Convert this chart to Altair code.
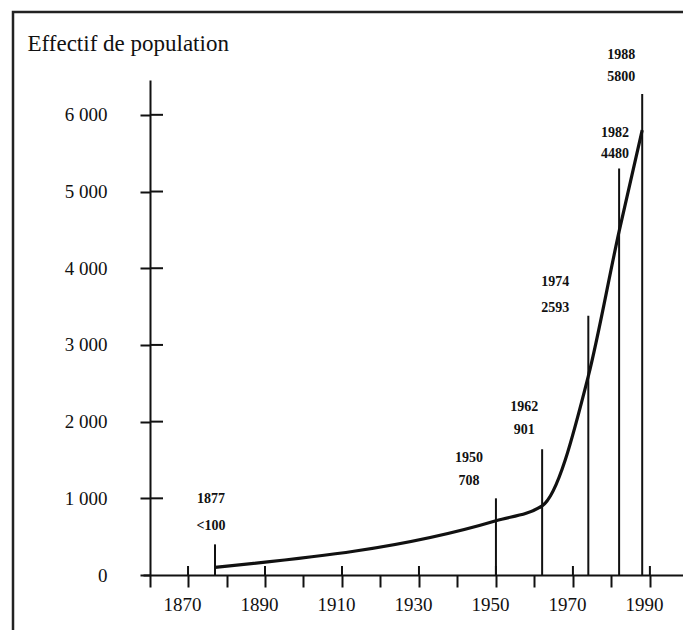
import altair as alt
import pandas as pd

# ---- data ----
years = [1877, 1950, 1962, 1974, 1982, 1988]
population = [100, 708, 901, 2593, 4480, 5800]
year_labels = ["1877", "1950", "1962", "1974", "1982", "1988"]
value_labels = ["<100", "708", "901", "2593", "4480", "5800"]
marker_tops = [400, 1000, 1640, 3380, 5300, 6270]
y_ticks = [0, 1000, 2000, 3000, 4000, 5000, 6000]
x_ticks = [1870, 1880, 1890, 1900, 1910, 1920, 1930, 1940, 1950, 1960, 1970, 1980, 1990]
x_major = [1870, 1890, 1910, 1930, 1950, 1970, 1990]

# ---- styling ----
FONT = "Liberation Serif"
INK = "#111111"
W, H = 540, 507
label_dx = [-4, -27, -18, -33, -4, -21]
label_dy_year = [-45, -40, -42, -34, -36, -39]
label_dy_value = [-18, -17, -19, -8, -15, -17]

df = pd.DataFrame({
    "year": years,
    "pop": population,
    "ylab": year_labels,
    "vlab": value_labels,
    "top": marker_tops,
})
yt = pd.DataFrame({"pop": y_ticks[1:]})
xt = pd.DataFrame({"year": x_major})
one = pd.DataFrame({"a": [0]})

xscale = alt.Scale(domain=[1858.3, 1998.6], nice=False, zero=False)
yscale = alt.Scale(domain=[-156, 6454], nice=False, zero=False)

x_axis = alt.Axis(
    orient="bottom", offset=-12, values=x_ticks, grid=False, zindex=1,
    domainColor=INK, domainWidth=2, tickColor=INK, tickWidth=2, tickSize=12,
    labelExpr="datum.value % 20 == 10 ? format(datum.value, 'd') : ''",
    labelFont=FONT, labelFontSize=19, labelColor=INK, labelPadding=8,
    labelOffset=-6, title=None,
)
y_axis = alt.Axis(
    orient="left", offset=-7, values=y_ticks, grid=False, zindex=1,
    domainColor=INK, domainWidth=2, tickColor=INK, tickWidth=2, tickSize=10,
    labelExpr="replace(format(datum.value, ','), ',', ' ')",
    labelFont=FONT, labelFontSize=19, labelColor=INK, labelPadding=33,
    title="Effectif de population", titleAngle=0, titleAlign="left",
    titleX=-123, titleY=-25,
    titleFont=FONT, titleFontSize=23, titleFontWeight="normal", titleColor=INK,
)

X = lambda f: alt.X(f"{f}:Q", scale=xscale, axis=x_axis)
Y = lambda f: alt.Y(f"{f}:Q", scale=yscale, axis=y_axis)

curve = alt.Chart(df).mark_line(
    color=INK, strokeWidth=3.2, interpolate="monotone"
).encode(x=X("year"), y=Y("pop"))

markers = alt.Chart(df).mark_rule(color=INK, strokeWidth=2).encode(
    x=X("year"), y=Y("top"), y2=alt.datum(0),
)

y_inner_ticks = alt.Chart(yt).mark_rule(color=INK, strokeWidth=2).encode(
    y=Y("pop"), x=alt.value(7), x2=alt.value(20),
)
x_inner_ticks = alt.Chart(xt).mark_rule(color=INK, strokeWidth=2).encode(
    x=X("year"), y=alt.value(486), y2=alt.value(495),
)

frame = alt.Chart(one).mark_rect(
    fill="transparent", stroke="#222222", strokeWidth=2.5
).encode(
    x=alt.value(-130), x2=alt.value(800), y=alt.value(-68), y2=alt.value(800)
)

label_layers = []
for i in range(len(years)):
    row = df.iloc[[i]]
    for field, dy in (("ylab", label_dy_year[i]), ("vlab", label_dy_value[i])):
        label_layers.append(
            alt.Chart(row).mark_text(
                font=FONT, fontSize=14, fontWeight="bold", color=INK,
                align="center", baseline="middle", dx=label_dx[i], dy=dy,
            ).encode(x=X("year"), y=Y("top"), text=f"{field}:N")
        )

chart = alt.layer(
    curve, markers, y_inner_ticks, x_inner_ticks, frame, *label_layers
).properties(
    width=W, height=H,
    autosize=alt.AutoSizeParams(type="none"),
    padding={"left": 135, "top": 72, "right": 0, "bottom": 43},
    background="#ffffff",
).configure_view(stroke=None)

chart.save("out.html", embed_options={"renderer": "svg", "actions": False})
